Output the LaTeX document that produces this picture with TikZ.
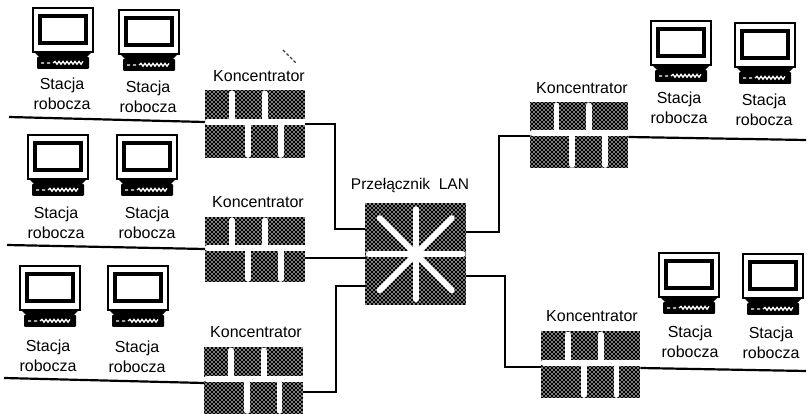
\documentclass[tikz,border=0pt]{standalone}
\usepackage{fontspec}
\setmainfont{Liberation Sans}
\usetikzlibrary{patterns,calc}
\pgfdeclarepatternformonly{hubdots}{\pgfqpoint{-1pt}{-1pt}}{\pgfqpoint{3pt}{3pt}}{\pgfqpoint{4pt}{4pt}}{%
  \pgfpathcircle{\pgfqpoint{0pt}{0pt}}{0.85pt}%
  \pgfpathcircle{\pgfqpoint{2pt}{2pt}}{0.85pt}%
  \pgfusepath{fill}}
\tikzset{
  x=1pt,y=-1pt,
  wire/.style={draw=black,line width=2.4pt,line join=miter},
  thin wire/.style={draw=black,line width=2.2pt},
  dotted box/.style={rectangle,inner sep=0pt,anchor=north west,preaction={fill=black},pattern=hubdots,pattern color=white},
  bar/.style={draw=white,line width=5.8pt,line cap=round},
  lbl/.style={font=\fontsize{16}{20}\selectfont,inner sep=0pt,align=center,text=black},
  pics/stacja/.style args={#1/#2}{code={
    \draw[black,line width=2pt,fill=white] (0,0) rectangle (60,44);
    \draw[black,line width=3.6pt,fill=white] (7,8) rectangle (53,35);
    \fill[black] (1,44) -- (59,44) -- (56,47) -- (54,49) -- (6,49) -- (4,47) -- cycle;
    \fill[black,rounded corners=1pt] (4,49) rectangle (56,61);
    \draw[white,line width=1.3pt] (8,55) -- (11,55) (14,55) -- (17,55) (20,55)
      -- ++(2,-1.6) -- ++(2,2.8) -- ++(2,-2.8) -- ++(2,2.8) -- ++(2,-2.8) -- ++(2,2.8)
      -- ++(2,-2.8) -- ++(2,2.8) -- ++(2,-2.8) -- ++(2,2.8) -- ++(2,-2.8) -- ++(2,2.8)
      -- ++(2,-2.8) -- ++(2,2.8) -- ++(2,-2.8);
    \node[lbl] at (#1,#2) {Stacja\\robocza};
  }}
}
\newcommand{\hubbars}[1]{%
  \coordinate (#1bl) at ($(#1.north west)!.47!(#1.south west)+(2.5,0)$);
  \coordinate (#1br) at ($(#1.north east)!.47!(#1.south east)+(-1,0)$);
  \coordinate (#1u1) at ($(#1.north west)!.27!(#1.north east)+(0,3.5)$);
  \coordinate (#1u2) at ($(#1.north west)!.60!(#1.north east)+(0,3.5)$);
  \coordinate (#1d1) at ($(#1.south west)!.43!(#1.south east)+(0,-3.5)$);
  \coordinate (#1d2) at ($(#1.south west)!.76!(#1.south east)+(0,-3.5)$);
  \draw[bar] (#1bl) -- (#1br);
  \draw[bar] (#1u1) -- (#1u1 |- #1bl);
  \draw[bar] (#1u2) -- (#1u2 |- #1bl);
  \draw[bar] (#1d1) -- (#1d1 |- #1bl);
  \draw[bar] (#1d2) -- (#1d2 |- #1bl);
}
\begin{document}
\begin{tikzpicture}
\useasboundingbox (0,0) rectangle (807,414);

% workstations
\pic at (33,8) {stacja=29/86};
\pic at (119,10) {stacja=29/87};
\pic at (28,135) {stacja=28/88};
\pic at (117,135) {stacja=30/88};
\pic at (20,266) {stacja=28/90};
\pic at (108,266) {stacja=29/91};
\pic at (651,21) {stacja=28/87};
\pic at (735,23) {stacja=29/87};
\pic at (659,253) {stacja=31/89};
\pic at (743,254) {stacja=28/89};

% hubs
\node[dotted box,minimum width=100pt,minimum height=68pt] (h1) at (205,90) {};
\node[dotted box,minimum width=100pt,minimum height=65pt] (h2) at (205,217) {};
\node[dotted box,minimum width=99pt,minimum height=67pt] (h3) at (204,347) {};
\node[dotted box,minimum width=98pt,minimum height=66pt] (h4) at (530,102) {};
\node[dotted box,minimum width=99pt,minimum height=67pt] (h5) at (541,331) {};
\hubbars{h1}\hubbars{h2}\hubbars{h3}\hubbars{h4}\hubbars{h5}

% switch
\node[dotted box,minimum width=101pt,minimum height=102pt] (sw) at (365,203) {};
\foreach \a/\r in {0/47,45/51,90/45,135/51,180/47,225/51,270/45,315/51}{
  \draw[bar] (sw.center) -- ($(sw.center)+(\a:\r)$);
}

% labels
\node[lbl] (l1) at (259,76) {Koncentrator};
\node[lbl] (l2) at (258,202) {Koncentrator};
\node[lbl] (l3) at (256,332) {Koncentrator};
\node[lbl] (l4) at (582,88) {Koncentrator};
\node[lbl] (l5) at (592,316) {Koncentrator};
\node[lbl,font=\fontsize{15.5}{20}\selectfont] (l6) at (410,186) {Przełącznik\ \ LAN};

% free line ends
\coordinate (e1) at (9,117);
\coordinate (e2) at (7,245);
\coordinate (e3) at (4,378);
\coordinate (e4) at (806,140);
\coordinate (e5) at (806,371);

% backbone lines
\draw[thin wire] (e1) -- (h1.west |- 0,122);
\draw[thin wire] (e2) -- (h2.west |- 0,249);
\draw[thin wire] (e3) -- (h3.west |- 0,383);
\draw[thin wire] (h4.east |- 0,137) -- (e4);
\draw[thin wire] (h5.east |- 0,368) -- (e5);

% uplinks
\draw[wire] (h1.east |- 0,124) -- (335,124) -- (335,229) -- (sw.west |- 0,229);
\draw[wire] (h2.east |- 0,258) -- (sw.west |- 0,258);
\draw[wire] (h3.east |- 0,392) -- (336,392) -- (336,286) -- (sw.west |- 0,286);
\draw[wire] (sw.east |- 0,232) -- (499,232) -- (499,136) -- (h4.west |- 0,136);
\draw[wire] (sw.east |- 0,276) -- (505,276) -- (505,367) -- (h5.west |- 0,367);

% stray print speck
\draw[black!75,line width=1.1pt,dash pattern=on 3pt off 2pt] (283,50) -- (296,63);
\end{tikzpicture}
\end{document}
